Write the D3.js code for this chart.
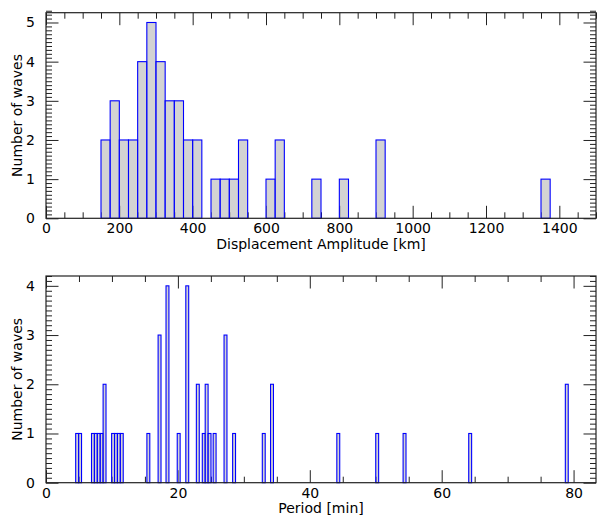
<!DOCTYPE html>
<html>
<head>
<meta charset="utf-8">
<script src="https://cdn.jsdelivr.net/npm/d3@7"></script>
<style>
  html, body { margin: 0; padding: 0; background: #fff; }
  svg { display: block; font-family: "DejaVu Sans", sans-serif; }
</style>
</head>
<body>
<svg id="chart" width="597" height="515"></svg>
<script>
// ---- Data ----
const ampBinWidth = 25; // km
const ampBins   = [150,175,200,225,250,275,300,325,350,375,400,450,475,500,525,600,625,725,800,900,1350];
const ampCounts = [2,3,2,2,4,5,4,3,3,2,2,1,1,1,2,1,2,1,1,2,1];
const ampTicks  = [0,200,400,600,800,1000,1200,1400];

const periodBinWidth = 0.44; // min
const periodBins   = [4.5,4.95,6.9,7.34,7.78,8.22,8.66,9.95,10.39,10.83,11.27,15.3,17.0,18.2,19.9,21.2,22.8,23.7,24.14,24.58,25.35,27.0,28.3,32.8,34.05,44.1,50.0,54.15,64.1,78.75];
const periodCounts = [1,1,1,1,1,1,2,1,1,1,1,1,3,4,1,4,2,1,2,1,1,3,1,1,2,1,1,1,1,2];
const periodTicks  = [0,20,40,60,80];

const svg = d3.select("#chart");
const MAJ = 12.5, MIN = 6;

function panel(cfg) {
  const x = d3.scaleLinear().domain(cfg.xDomain).range([cfg.left, cfg.right]);
  const y = d3.scaleLinear().domain(cfg.yDomain).range([cfg.bottom, cfg.top]);
  const g = svg.append("g");
  const yMaxInt = Math.floor(cfg.yDomain[1]);
  const yMajor = d3.range(0, yMaxInt + 1);
  const yMinor = d3.range(0, Math.round(cfg.yDomain[1] * 10) + 1).map(d => d / 10).filter(d => Math.abs(d - Math.round(d)) > 1e-6);
  const xMinor = d3.range(0, cfg.xDomain[1] + 1e-9, cfg.xMinorStep).filter(d => !cfg.xTicks.includes(d));

  function styleAxis(sel) {
    sel.select(".domain").remove();
    sel.selectAll(".tick line").attr("stroke", "#222").attr("stroke-width", 1);
    sel.selectAll(".tick text").attr("fill", "#000").style("font-size", "14px").style("font-family", "DejaVu Sans");
  }
  // bottom
  g.append("g").attr("transform", `translate(0,${cfg.bottom})`)
    .call(d3.axisBottom(x).tickValues(cfg.xTicks).tickSizeInner(-MAJ).tickSizeOuter(0).tickPadding(5).tickFormat(d3.format("d")))
    .call(styleAxis);
  g.append("g").attr("transform", `translate(0,${cfg.bottom})`)
    .call(d3.axisBottom(x).tickValues(xMinor).tickSizeInner(-MIN).tickSizeOuter(0).tickFormat(""))
    .call(styleAxis);
  // top
  g.append("g").attr("transform", `translate(0,${cfg.top})`)
    .call(d3.axisTop(x).tickValues(cfg.xTicks).tickSizeInner(-MAJ).tickSizeOuter(0).tickFormat(""))
    .call(styleAxis);
  g.append("g").attr("transform", `translate(0,${cfg.top})`)
    .call(d3.axisTop(x).tickValues(xMinor).tickSizeInner(-MIN).tickSizeOuter(0).tickFormat(""))
    .call(styleAxis);
  // left
  g.append("g").attr("transform", `translate(${cfg.left},0)`)
    .call(d3.axisLeft(y).tickValues(yMajor).tickSizeInner(-MAJ).tickSizeOuter(0).tickPadding(11).tickFormat(d3.format("d")))
    .call(styleAxis);
  g.append("g").attr("transform", `translate(${cfg.left},0)`)
    .call(d3.axisLeft(y).tickValues(yMinor).tickSizeInner(-MIN).tickSizeOuter(0).tickFormat(""))
    .call(styleAxis);
  // right
  g.append("g").attr("transform", `translate(${cfg.right},0)`)
    .call(d3.axisRight(y).tickValues(yMajor).tickSizeInner(-MAJ).tickSizeOuter(0).tickFormat(""))
    .call(styleAxis);
  g.append("g").attr("transform", `translate(${cfg.right},0)`)
    .call(d3.axisRight(y).tickValues(yMinor).tickSizeInner(-MIN).tickSizeOuter(0).tickFormat(""))
    .call(styleAxis);

  // bars
  g.append("g").selectAll("rect").data(cfg.bins.map((b, i) => ({ x0: b, x1: b + cfg.binWidth, c: cfg.counts[i] })))
    .join("rect")
    .attr("x", d => x(d.x0))
    .attr("width", d => x(d.x1) - x(d.x0))
    .attr("y", d => y(d.c))
    .attr("height", d => y(0) - y(d.c))
    .attr("fill", "#b5b5b5")
    .attr("fill-opacity", 0.6)
    .attr("stroke", "#0000ff")
    .attr("stroke-width", 1.1);

  // frame
  g.append("rect")
    .attr("x", cfg.left).attr("y", cfg.top)
    .attr("width", cfg.right - cfg.left).attr("height", cfg.bottom - cfg.top)
    .attr("fill", "none").attr("stroke", "#222").attr("stroke-width", 1.2);

  // axis labels
  g.append("text")
    .attr("x", (cfg.left + cfg.right) / 2).attr("y", cfg.bottom + cfg.xLabelOffset)
    .attr("text-anchor", "middle").style("font-size", "14px").attr("fill", "#000")
    .text(cfg.xLabel);
  g.append("text")
    .attr("transform", `translate(${cfg.left - 24},${(cfg.top + cfg.bottom) / 2}) rotate(-90)`)
    .attr("text-anchor", "middle").style("font-size", "14px").attr("fill", "#000")
    .text(cfg.yLabel);
}

panel({
  left: 46, right: 596, top: 12.7, bottom: 218.3,
  xDomain: [0, 1500], yDomain: [0, 5.25],
  xTicks: ampTicks, xMinorStep: 50,
  bins: ampBins, counts: ampCounts, binWidth: ampBinWidth,
  xLabel: "Displacement Amplitude [km]", yLabel: "Number of waves", xLabelOffset: 31
});

panel({
  left: 46, right: 596, top: 276, bottom: 482.7,
  xDomain: [0, 83.4], yDomain: [0, 4.2],
  xTicks: periodTicks, xMinorStep: 5,
  bins: periodBins, counts: periodCounts, binWidth: periodBinWidth,
  xLabel: "Period [min]", yLabel: "Number of waves", xLabelOffset: 30
});
</script>
</body>
</html>
